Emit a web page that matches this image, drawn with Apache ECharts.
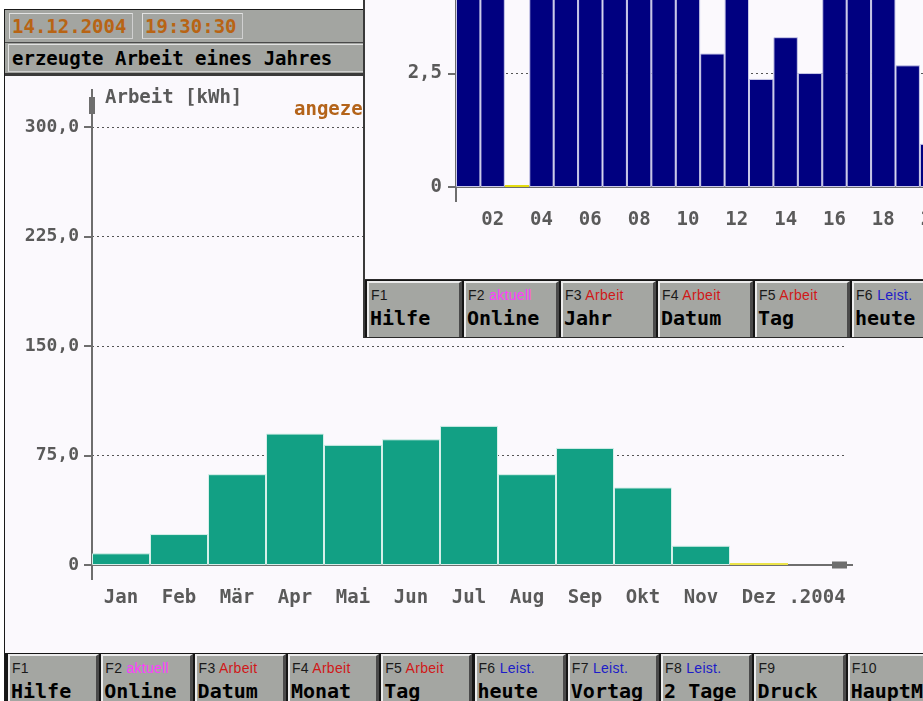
<!DOCTYPE html>
<html>
<head>
<meta charset="utf-8">
<title>erzeugte Arbeit eines Jahres</title>
<script src="https://cdn.jsdelivr.net/npm/echarts@6.0.0/dist/echarts.min.js"></script>
<style>
  html, body { margin: 0; padding: 0; }
  body { width: 923px; height: 701px; overflow: hidden; position: relative; background: #ffffff; }
  .abs { position: absolute; box-sizing: border-box; }
  .mono { font-family: "DejaVu Sans Mono", monospace; font-weight: bold; font-size: 19px; white-space: nowrap; }
  #mainWin { left: 4px; top: 9px; width: 960px; height: 720px; border-left: 1px solid #1a1a1a; border-top: 1px solid #1a1a1a; background: #fbf9fd; }
  #head { left: 5px; top: 10px; width: 360px; height: 66px; background: #a3a5a1; border-bottom: 3px solid #3a3a3a; }
  .box { border: 1px solid #e2e2e2; border-right-color: #d0d0d0; border-bottom-color: #d0d0d0; line-height: 24px; padding-left: 2px; }
  #chart1 { left: 5px; top: 77px; width: 918px; height: 576px; }
  .row { background: #151515; overflow: hidden; }
  .btn { top: 1px; height: 60px; background: #a4a6a2; border-top: 2px solid #ececec; border-left: 2px solid #ececec; border-right: 3px solid #4a4a4a; border-bottom: 3px solid #4a4a4a; }
  .btn .k { position: absolute; left: 2px; top: 4px; font: 14px "Liberation Sans", Arial, sans-serif; color: #1a1a1a; white-space: nowrap; letter-spacing: 0.3px; }
  .btn .t { position: absolute; left: 1px; top: 23px; font: bold 20px "DejaVu Sans Mono", monospace; color: #000; white-space: nowrap; }
  .pink { color: #ff3cff; }
  .red { color: #d01818; }
  .blue { color: #1c1cc8; }
  #overlay { left: 363px; top: 0px; width: 560px; height: 338px; background: #fbf9fd; border-left: 2px solid #3a3a3a; border-bottom: 1px solid #2a2a2a; z-index: 10; }
  #chart2 { left: 0px; top: 0px; width: 558px; height: 279px; }
</style>
</head>
<body>
<div id="mainWin" class="abs"></div>
<div id="head" class="abs">
  <div class="abs box mono" style="left:4px; top:3px; width:124px; height:26px; color:#b86414;">14.12.2004</div>
  <div class="abs box mono" style="left:137px; top:3px; width:101px; height:26px; color:#b86414;">19:30:30</div>
  <div class="abs" style="left:0px; top:32px; width:360px; height:1px; background:#4a4a4a;"></div>
  <div class="abs box mono" style="left:3px; top:34px; width:357px; height:28px; color:#000; line-height:27px; padding-left:3px;">erzeugte Arbeit eines Jahres</div>
</div>
<div id="chart1" class="abs"></div>
<div id="row1" class="abs row" style="left:5px; top:653px; width:918px; height:48px;"></div>

<div id="overlay" class="abs">
  <div id="chart2" class="abs"></div>
  <div class="abs" style="left:0px; top:279px; width:558px; height:1px; background:#2a2a2a;"></div>
  <div id="row2" class="abs row" style="left:0px; top:280px; width:558px; height:57px;"></div>
</div>

<script>
// Monatswerte (kWh)
var months = ['Jan', 'Feb', 'Mär', 'Apr', 'Mai', 'Jun', 'Jul', 'Aug', 'Sep', 'Okt', 'Nov', 'Dez'];
var yearLabel = '.2004';
var arbeitMonat = [8.0, 21.2, 62.2, 90.0, 82.3, 86.1, 95.3, 62.2, 80.2, 53.1, 13.2, 0];
var monatTicks = [0, 75, 150, 225, 300];

// Stundenwerte im verdeckten Fenster (oben abgeschnitten)
var stunden = ['01', '02', '03', '04', '05', '06', '07', '08', '09', '10', '11', '12',
               '13', '14', '15', '16', '17', '18', '19', '20', '21', '22', '23', '24'];
var arbeitStunde = [4.5, 4.5, 0, 4.5, 4.5, 4.5, 4.5, 4.5, 4.5, 4.5, 2.94, 4.5,
                    2.38, 3.30, 2.51, 4.5, 4.5, 4.5, 2.68, 0.95, null, null, null, null];
var stundeTicks = [0, 2.5, 5];

// Funktionstasten
var tasten1 = [
  ['F1', '', '', 'Hilfe'], ['F2', 'aktuell', 'pink', 'Online'], ['F3', 'Arbeit', 'red', 'Datum'],
  ['F4', 'Arbeit', 'red', 'Monat'], ['F5', 'Arbeit', 'red', 'Tag'], ['F6', 'Leist.', 'blue', 'heute'],
  ['F7', 'Leist.', 'blue', 'Vortag'], ['F8', 'Leist.', 'blue', '2 Tage'], ['F9', '', '', 'Druck'],
  ['F10', '', '', 'HauptM']
];
var tasten2 = [
  ['F1', '', '', 'Hilfe'], ['F2', 'aktuell', 'pink', 'Online'], ['F3', 'Arbeit', 'red', 'Jahr'],
  ['F4', 'Arbeit', 'red', 'Datum'], ['F5', 'Arbeit', 'red', 'Tag'], ['F6', 'Leist.', 'blue', 'heute']
];

function buildRow(id, list, start, pitch) {
  var row = document.getElementById(id);
  list.forEach(function (t, i) {
    var b = document.createElement('div');
    b.className = 'abs btn';
    b.style.left = (start + i * pitch) + 'px';
    b.style.width = (pitch - 2) + 'px';
    b.innerHTML = '<span class="k">' + t[0] + (t[1] ? ' <span class="' + t[2] + '">' + t[1] + '</span>' : '') +
      '</span><span class="t">' + t[3] + '</span>';
    row.appendChild(b);
  });
}
buildRow('row1', tasten1, 3, 93.3);
buildRow('row2', tasten2, 2, 97);

var grau = '#5a5a5a';
var achse = '#6e6e6e';
var mono = '"DejaVu Sans Mono", monospace';

function zahl(v) {
  return v === 0 ? '0' : v.toFixed(1).replace('.', ',');
}

function barData(values, gelb) {
  return values.map(function (v) {
    if (v === 0) {
      return { value: 0, itemStyle: { color: gelb, borderWidth: 0 } };
    }
    return v;
  });
}

var myChart1 = echarts.init(document.getElementById('chart1'));
var myChart2 = echarts.init(document.getElementById('chart2'));

var option1 = {
  animation: false,
  grid: { left: 87, top: 50, right: 77, bottom: 88, outerBoundsMode: 'none' },
  xAxis: {
    type: 'category',
    data: months.concat([yearLabel]),
    boundaryGap: true,
    axisLine: {
      lineStyle: { color: achse, width: 2 },
      symbol: ['none', 'path://M2.5,0L4.5,0L4.5,6L7,6L7,21L0,21L0,6L2.5,6Z'],
      symbolSize: [7, 21],
      symbolOffset: [0, -3.5]
    },
    axisTick: {
      alignWithLabel: true, length: 8,
      lineStyle: { color: achse, width: 2 },
      interval: function (i) { return i < months.length; }
    },
    axisLabel: { interval: 0, margin: 24, color: grau, fontFamily: mono, fontWeight: 'bold', fontSize: 19 },
    splitLine: { show: false }
  },
  yAxis: {
    type: 'value',
    min: monatTicks[0],
    max: monatTicks[monatTicks.length - 1],
    interval: monatTicks[1] - monatTicks[0],
    name: 'Arbeit [kWh]',
    nameLocation: 'end',
    nameGap: 29,
    nameTextStyle: { align: 'left', verticalAlign: 'middle', padding: [0, 0, 0, 13], color: grau, fontFamily: mono, fontWeight: 'bold', fontSize: 19 },
    axisLine: {
      show: true,
      lineStyle: { color: achse, width: 2 },
      symbol: ['none', 'path://M2,0L4,0L4,8L6,8L6,25L4,25L4,38L2,38L2,25L0,25L0,8L2,8Z'],
      symbolSize: [6, 38],
      symbolOffset: [0, 19]
    },
    axisTick: { show: true, length: 8, lineStyle: { color: achse, width: 2 } },
    axisLabel: { margin: 13, formatter: zahl, color: grau, fontFamily: mono, fontWeight: 'bold', fontSize: 18 },
    splitLine: { show: true, showMinLine: false, lineStyle: { color: '#555', type: [2, 3], width: 1 } }
  },
  series: [
    {
      name: 'Arbeit',
      type: 'bar',
      data: barData(arbeitMonat, '#ece44a'),
      barCategoryGap: '0%',
      barMinHeight: 2,
      itemStyle: { color: '#12a084', borderColor: '#d6efe9', borderWidth: 1 }
    }
  ],
  graphic: [
    {
      type: 'text', id: 'angezeigt', left: 289, top: 24,
      style: { text: 'angezeigt', fill: '#b4641a', font: 'bold 19px "DejaVu Sans Mono", monospace' }
    }
  ]
};
myChart1.setOption(option1);

var option2 = {
  animation: false,
  grid: { left: 91, top: -40, right: -119, bottom: 92, outerBoundsMode: 'none' },
  xAxis: {
    type: 'category',
    data: stunden,
    boundaryGap: true,
    axisLine: { lineStyle: { color: achse, width: 2 } },
    axisTick: { alignWithLabel: true, interval: 0, length: 8, lineStyle: { color: achse, width: 2 } },
    axisLabel: {
      interval: function (i) { return i % 2 === 1; },
      margin: 24, color: grau, fontFamily: mono, fontWeight: 'bold', fontSize: 19
    },
    splitLine: { show: false }
  },
  yAxis: {
    type: 'value',
    min: stundeTicks[0],
    max: stundeTicks[stundeTicks.length - 1],
    interval: stundeTicks[1] - stundeTicks[0],
    axisLine: { show: true, lineStyle: { color: achse, width: 2 } },
    axisTick: { show: true, length: 8, lineStyle: { color: achse, width: 2 } },
    axisLabel: { margin: 14, formatter: zahl, color: grau, fontFamily: mono, fontWeight: 'bold', fontSize: 19 },
    splitLine: { show: true, showMinLine: false, lineStyle: { color: '#555', type: [2, 3], width: 1 } }
  },
  series: [
    {
      name: 'Arbeit',
      type: 'bar',
      data: barData(arbeitStunde, '#e4dc10'),
      barCategoryGap: '0%',
      barMinHeight: 2,
      itemStyle: { color: '#000080', borderColor: '#c8c8e8', borderWidth: 1 }
    }
  ]
};
myChart2.setOption(option2);

// y-Achse ragt unten etwas ueber die x-Achse hinaus
function achsenStummel(chart, left) {
  var y0 = chart.convertToPixel({ yAxisIndex: 0 }, 0);
  chart.setOption({
    graphic: [{
      type: 'line', id: 'stummel', z: 10,
      shape: { x1: left, y1: y0, x2: left, y2: y0 + 15 },
      style: { stroke: achse, lineWidth: 2 }
    }]
  });
}
achsenStummel(myChart1, 87);
achsenStummel(myChart2, 91);
</script>
</body>
</html>
